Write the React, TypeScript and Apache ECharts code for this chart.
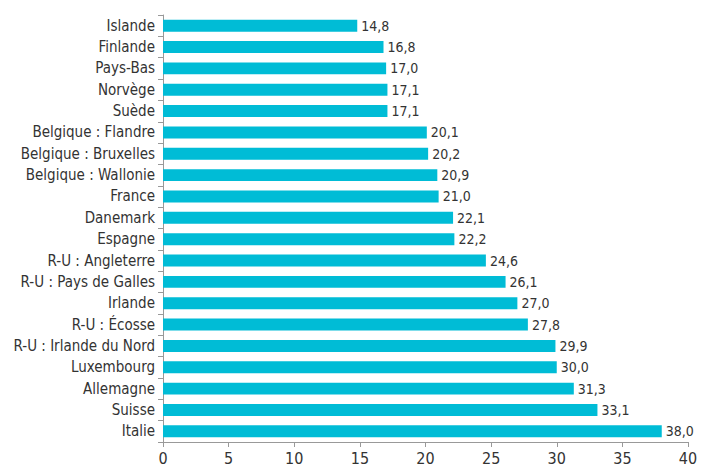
import React, { useEffect, useRef } from "react";
import * as echarts from "echarts";

const categories = [
  "Islande", "Finlande", "Pays-Bas", "Norvège", "Suède",
  "Belgique : Flandre", "Belgique : Bruxelles", "Belgique : Wallonie", "France", "Danemark",
  "Espagne", "R-U : Angleterre", "R-U : Pays de Galles", "Irlande", "R-U : Écosse",
  "R-U : Irlande du Nord", "Luxembourg", "Allemagne", "Suisse", "Italie",
];
const values = [
  14.8, 16.8, 17.0, 17.1, 17.1,
  20.1, 20.2, 20.9, 21.0, 22.1,
  22.2, 24.6, 26.1, 27.0, 27.8,
  29.9, 30.0, 31.3, 33.1, 38.0,
];
const xTicks = [0, 5, 10, 15, 20, 25, 30, 35, 40];

const FONT = "'Liberation Sans Narrow', 'DejaVu Sans Condensed', 'Roboto', sans-serif";

export default function App() {
  const ref = useRef<HTMLDivElement>(null);
  useEffect(() => {
    if (!ref.current) return;
    const chart = echarts.init(ref.current, undefined, { renderer: "svg" });
    chart.setOption({
      animation: false,
      backgroundColor: "#ffffff",
      grid: { left: 163, right: 24, top: 15, bottom: 28, containLabel: false },
      xAxis: {
        type: "value",
        min: xTicks[0],
        max: xTicks[xTicks.length - 1],
        interval: 5,
        splitLine: { show: false },
        axisLine: { show: true, lineStyle: { color: "#999999", width: 1 } },
        axisTick: { show: true, length: 5, lineStyle: { color: "#999999" } },
        axisLabel: { color: "#333333", fontSize: 16, fontFamily: FONT, margin: 8 },
      },
      yAxis: {
        type: "category",
        inverse: true,
        data: categories,
        axisLine: { show: true, lineStyle: { color: "#999999", width: 1 } },
        axisTick: { show: true, length: 5, alignWithLabel: false, lineStyle: { color: "#999999" } },
        axisLabel: { color: "#333333", fontSize: 15, fontFamily: FONT, margin: 8 },
      },
      series: [
        {
          type: "bar",
          data: values,
          barCategoryGap: "44%",
          itemStyle: { color: "#00BCD6" },
          label: {
            show: true,
            position: "right",
            distance: 4,
            color: "#333333",
            fontSize: 14,
            fontFamily: FONT,
            formatter: (p: any) => Number(p.value).toFixed(1).replace(".", ","),
          },
        },
      ],
    });
    return () => chart.dispose();
  }, []);
  return <div ref={ref} style={{ width: 712, height: 470, position: "absolute", left: 0, top: 0 }} />;
}
